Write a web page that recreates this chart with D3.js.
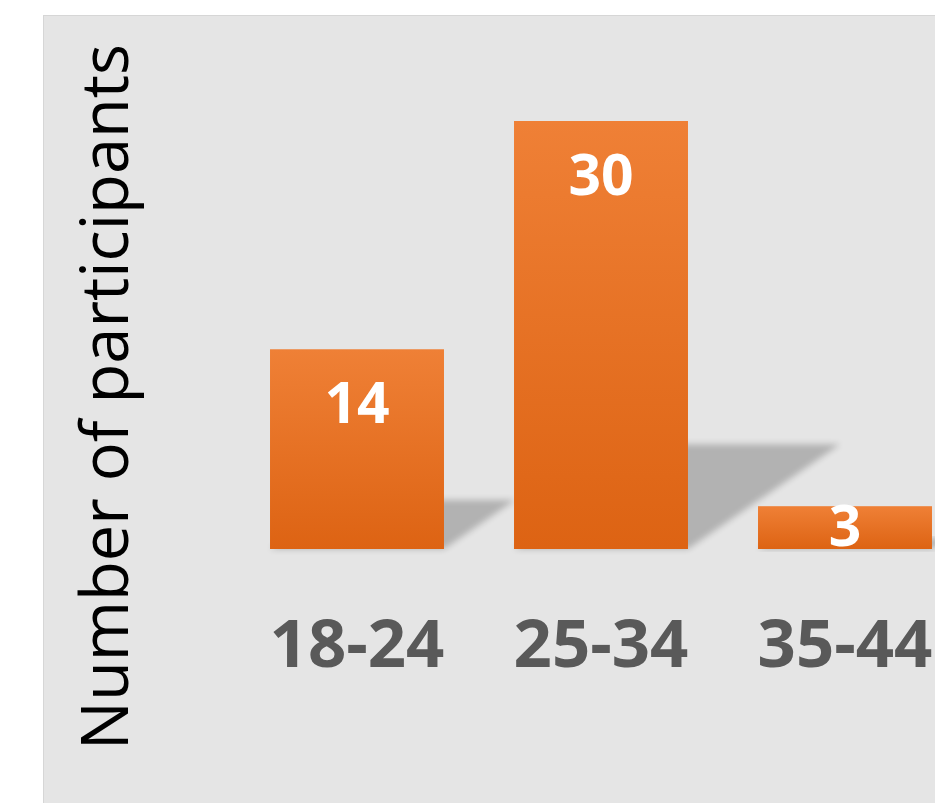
<!DOCTYPE html>
<html>
<head>
<meta charset="utf-8">
<script src="https://cdn.jsdelivr.net/npm/d3@7"></script>
<style>
  html, body { margin: 0; padding: 0; background: #ffffff; }
  svg { display: block; }
</style>
</head>
<body>
<div id="chart"></div>
<script>
// chart data
var ageGroups = ["18-24", "25-34", "35-44"];
var participants = [14, 30, 3];
var yTitle = "Number of participants";

var svgWidth = 935;
var svgHeight = 803;

var svg = d3.select("#chart")
  .append("svg")
  .attr("width", svgWidth)
  .attr("height", svgHeight);

var defs = svg.append("defs");

// bar gradient
var grad = defs.append("linearGradient")
  .attr("id", "barGrad")
  .attr("x1", 0).attr("y1", 0)
  .attr("x2", 0).attr("y2", 1);
grad.append("stop").attr("offset", "0%").attr("stop-color", "#ef8036");
grad.append("stop").attr("offset", "100%").attr("stop-color", "#dd6313");

// blurred shadow
defs.append("filter")
  .attr("id", "blur")
  .attr("x", "-20%").attr("y", "-20%")
  .attr("width", "140%").attr("height", "140%")
  .append("feGaussianBlur")
  .attr("stdDeviation", 3);

// panel background
svg.append("rect")
  .attr("x", 43.5)
  .attr("y", 15.5)
  .attr("width", 960)
  .attr("height", 820)
  .attr("fill", "#e5e5e5")
  .attr("stroke", "#d6d6d6")
  .attr("stroke-width", 1);

// scales
var x = d3.scaleBand()
  .domain(ageGroups)
  .range([235, 967])
  .paddingInner(0.287)
  .paddingOuter(0.1435);

var y = d3.scaleLinear()
  .domain([0, 30])
  .range([549, 121]);

var data = ageGroups.map(function(g, i) {
  return { group: g, value: participants[i] };
});

// shadows
svg.append("g")
  .selectAll("polygon")
  .data(data)
  .enter()
  .append("polygon")
  .attr("points", function(d) {
    var x0 = x(d.group), x1 = x0 + x.bandwidth();
    var h = y(0) - y(d.value);
    var sh = h * 0.245;
    var dx = sh * 1.45;
    return [[x0, y(0)], [x1, y(0)], [x1 + dx, y(0) - sh], [x0 + dx, y(0) - sh]]
      .map(function(p) { return p.join(","); }).join(" ");
  })
  .attr("fill", "#000")
  .attr("opacity", 0.22)
  .attr("filter", "url(#blur)");

// bars
svg.append("g")
  .selectAll("rect")
  .data(data)
  .enter()
  .append("rect")
  .attr("x", d => x(d.group))
  .attr("y", d => y(d.value))
  .attr("width", x.bandwidth())
  .attr("height", d => y(0) - y(d.value))
  .attr("fill", "url(#barGrad)");

// value labels
svg.append("g")
  .selectAll("text")
  .data(data)
  .enter()
  .append("text")
  .attr("x", d => x(d.group) + x.bandwidth() / 2)
  .attr("y", d => Math.min(y(d.value) + 74, y(0) - 3))
  .attr("text-anchor", "middle")
  .attr("font-family", "'Open Sans', sans-serif")
  .attr("font-weight", "bold")
  .attr("font-size", 57)
  .attr("fill", "#ffffff")
  .text(d => d.value);

// category axis labels
var xAxis = d3.axisBottom(x).tickSize(0).tickPadding(0);
var xAxisG = svg.append("g")
  .attr("transform", "translate(0, 667)")
  .call(xAxis);
xAxisG.select(".domain").remove();
xAxisG.selectAll("text")
  .attr("dy", 0)
  .attr("y", 0)
  .attr("font-family", "'Open Sans', sans-serif")
  .attr("font-weight", "bold")
  .attr("font-size", 67)
  .attr("fill", "#595959");

// y title
svg.append("text")
  .attr("transform", "translate(128, 397) rotate(-90)")
  .attr("text-anchor", "middle")
  .attr("font-family", "'Open Sans', sans-serif")
  .attr("font-size", 65)
  .attr("fill", "#000000")
  .text(yTitle);
</script>
</body>
</html>
